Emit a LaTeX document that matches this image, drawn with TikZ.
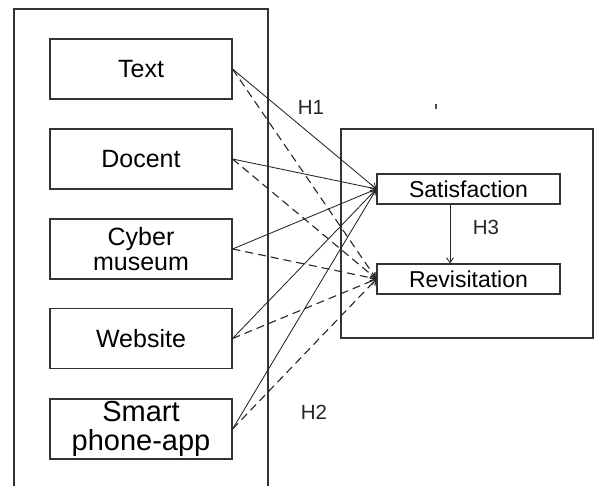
\documentclass[tikz,border=0pt]{standalone}
\usepackage{fontspec}
\setmainfont{Liberation Sans}
\usetikzlibrary{arrows.meta}
\begin{document}
\begin{tikzpicture}[x=1pt,y=-1pt,
  frame/.style={draw=black!80, line width=1.3pt},
  ibox/.style={draw=black!80, line width=1.1pt, minimum width=182pt, minimum height=60pt, align=center, inner sep=0pt},
  rbox/.style={draw=black!80, line width=1.1pt, minimum width=183pt, minimum height=30pt, inner sep=0pt},
  sline/.style={draw=black!85, line width=0.85pt, -{Straight Barb[length=5pt,width=7pt]}},
  dline/.style={draw=black!85, line width=1.1pt, dash pattern=on 8pt off 5pt, -{Straight Barb[length=5pt,width=7pt]}},
  lbl/.style={font=\fontsize{20.5}{22}\selectfont, text=black!85}]
\useasboundingbox[fill=white] (0,0) rectangle (594,486);
\draw[frame] (14,500) -- (14,9) -- (268,9) -- (268,500);
\draw[frame] (341,129) rectangle (593,338);
\node[ibox, font=\fontsize{25}{25.5}\selectfont] (text) at (141,69) {Text};
\node[ibox, font=\fontsize{25}{25.5}\selectfont] (docent) at (141,159) {Docent};
\node[ibox, font=\fontsize{25}{25.5}\selectfont] (cyber) at (141,249) {Cyber\\museum};
\node[ibox, font=\fontsize{25}{25.5}\selectfont] (web) at (141,338.5) {Website};
\node[ibox, font=\fontsize{29}{29.5}\selectfont] (smart) at (141,429) {Smart\\phone-app};
\node[rbox, font=\fontsize{23}{24}\selectfont] (sat) at (468.5,189) {Satisfaction};
\node[rbox, font=\fontsize{23}{24}\selectfont] (rev) at (468.5,279) {Revisitation};
\foreach \n in {text,docent,cyber,web,smart}{
  \draw[sline] (\n.east) -- (sat.west);
  \draw[dline] (\n.east) -- (rev.west);
}
\coordinate (h3top) at (450,204);
\draw[sline] (h3top) -- (h3top |- rev.north);
\node[lbl] (h1) at (311,107) {H1};
\node[lbl] (h2) at (314,412) {H2};
\node[lbl] (h3) at (486,227) {H3};
\fill[black!70] (435,104) rectangle (437,109);
\end{tikzpicture}
\end{document}
